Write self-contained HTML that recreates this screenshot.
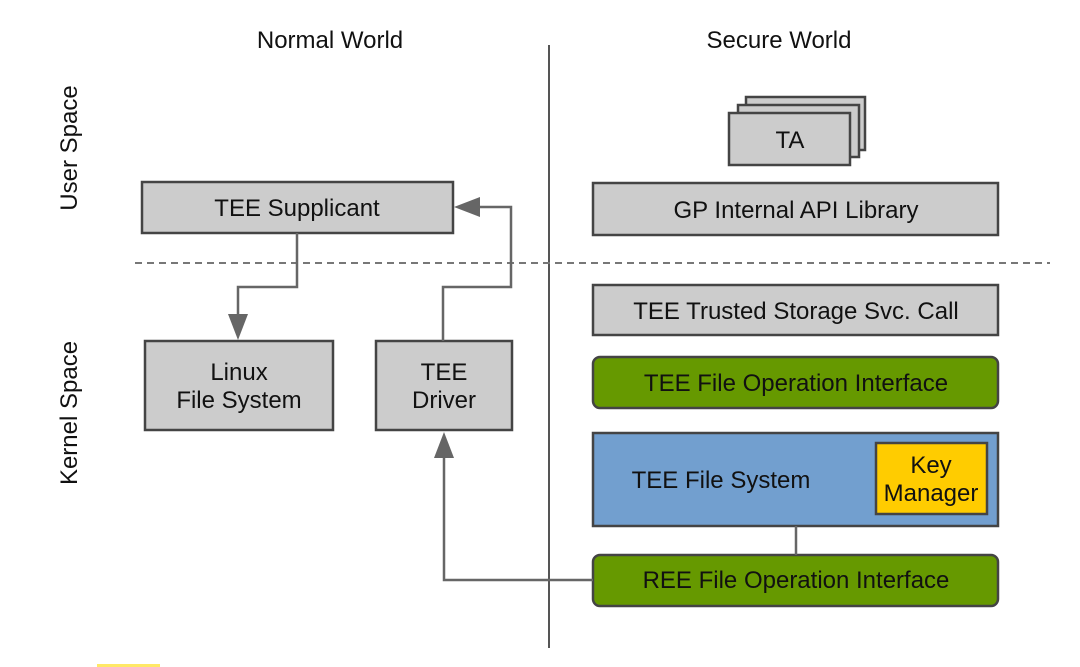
<!DOCTYPE html>
<html><head><meta charset="utf-8"><style>
html,body{margin:0;padding:0;background:#fff;}
svg{display:block;}
text{font-family:"Liberation Sans",sans-serif;fill:#111;}
</style></head><body>
<svg width="1080" height="667" viewBox="0 0 1080 667">
<rect width="1080" height="667" fill="#fff"/>
<line x1="549" y1="45" x2="549" y2="648" stroke="#555" stroke-width="2"/>
<line x1="135" y1="263" x2="1050" y2="263" stroke="#777" stroke-width="2" stroke-dasharray="7,5"/>
<text x="330" y="48" font-size="24" text-anchor="middle">Normal World</text>
<text x="779" y="48" font-size="24" text-anchor="middle">Secure World</text>
<text transform="translate(77,148) rotate(-90)" font-size="24" text-anchor="middle">User Space</text>
<text transform="translate(77,413) rotate(-90)" font-size="24" text-anchor="middle">Kernel Space</text>
<g stroke="#444" stroke-width="2.5" fill="#cccccc">
<rect x="746" y="97" width="119" height="53"/>
<rect x="738" y="105" width="121" height="52"/>
<rect x="729" y="113" width="121" height="52"/>
<rect x="593" y="183" width="405" height="52"/>
<rect x="593" y="285" width="405" height="50"/>
<rect x="593" y="357" width="405" height="51" rx="7" fill="#669900"/>
<rect x="593" y="433" width="405" height="93" fill="#729fcf"/>
<rect x="876" y="443" width="111" height="71" fill="#ffcc00"/>
<rect x="593" y="555" width="405" height="51" rx="7" fill="#669900"/>
<rect x="142" y="182" width="311" height="51"/>
<rect x="145" y="341" width="188" height="89"/>
<rect x="376" y="341" width="136" height="89"/>
</g>
<g stroke="#666" stroke-width="2.5" fill="none">
<line x1="796" y1="526" x2="796" y2="555"/>
<polyline points="297,233 297,287 238,287 238,315"/>
<polyline points="443,341 443,287 511,287 511,207 480,207"/>
<polyline points="593,580 444,580 444,458"/>
</g>
<g fill="#666">
<polygon points="228,314 248,314 238,340"/>
<polygon points="480,197 480,217 454,207"/>
<polygon points="434,458 454,458 444,432"/>
</g>
<g font-size="24" text-anchor="middle">
<text x="790" y="148">TA</text>
<text x="796" y="218">GP Internal API Library</text>
<text x="796" y="319">TEE Trusted Storage Svc. Call</text>
<text x="796" y="391">TEE File Operation Interface</text>
<text x="721" y="488">TEE File System</text>
<text x="931" y="473">Key</text>
<text x="931" y="501">Manager</text>
<text x="796" y="588">REE File Operation Interface</text>
<text x="297" y="216">TEE Supplicant</text>
<text x="239" y="380">Linux</text>
<text x="239" y="408">File System</text>
<text x="444" y="380">TEE</text>
<text x="444" y="408">Driver</text>
</g>
<rect x="97" y="664" width="63" height="3" fill="#ffe866"/>
</svg>
</body></html>
